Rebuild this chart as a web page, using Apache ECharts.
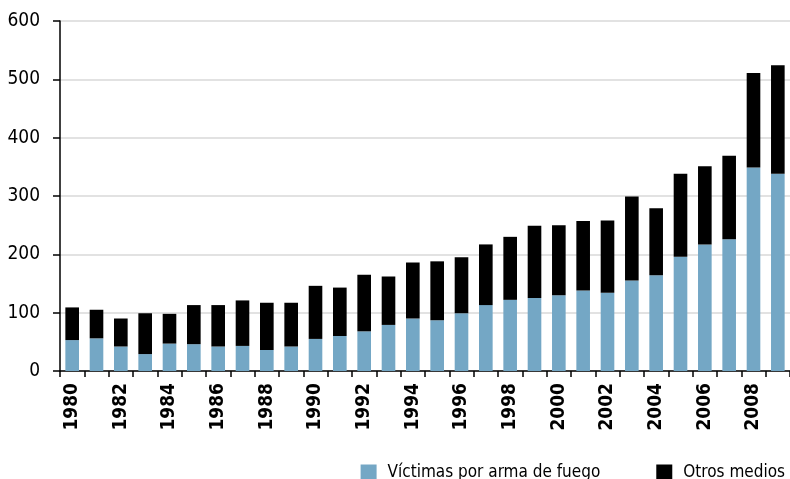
<!DOCTYPE html>
<html>
<head>
<meta charset="utf-8">
<script src="https://cdn.jsdelivr.net/npm/echarts@6/dist/echarts.min.js"></script>
<style>
  html, body { margin: 0; padding: 0; background: #fff; }
  #chart { width: 790px; height: 479px; }
</style>
</head>
<body>
<div id="chart"></div>
<script>
// years 1980..2009
var years = ['1980', '1981', '1982', '1983', '1984', '1985', '1986', '1987', '1988', '1989',
    '1990', '1991', '1992', '1993', '1994', '1995', '1996', '1997', '1998', '1999',
    '2000', '2001', '2002', '2003', '2004', '2005', '2006', '2007', '2008', '2009'];

// victims by firearm (blue, bottom)
var armaFuego = [53, 56, 42, 29, 47, 46, 42, 43, 36, 42,
    55, 60, 68, 79, 90, 87, 99, 113, 122, 125,
    130, 138, 134, 155, 164, 196, 217, 226, 349, 338];

// other means (black, top)
var otrosMedios = [56, 49, 48, 70, 51, 67, 71, 78, 81, 75,
    91, 83, 97, 83, 96, 101, 96, 104, 108, 124,
    120, 119, 124, 144, 115, 142, 134, 143, 162, 186];

var FONT = '"DejaVu Sans Condensed", "DejaVu Sans", sans-serif';

var chart = echarts.init(document.getElementById('chart'));

var option = {
    animation: false,
    textStyle: { fontFamily: FONT },
    grid: { left: 60, right: 0, top: 21, bottom: 108 },
    legend: {
        right: 0,
        top: 459,
        itemWidth: 16,
        itemHeight: 16,
        itemGap: 56,
        icon: 'rect',
        textStyle: { fontFamily: FONT, fontSize: 17, color: '#000', padding: [0, 0, 0, 6] },
        data: ['Víctimas por arma de fuego', 'Otros medios']
    },
    xAxis: {
        type: 'category',
        data: years,
        axisLine: { lineStyle: { color: '#000', width: 1.5 } },
        axisTick: { show: true, length: 6, interval: 0, lineStyle: { color: '#000', width: 1.5 } },
        axisLabel: {
            interval: 1,
            rotate: 90,
            margin: 12,
            color: '#000',
            fontFamily: FONT,
            fontWeight: 'bold',
            fontSize: 19
        }
    },
    yAxis: {
        type: 'value',
        min: 0,
        max: 600,
        interval: 100,
        axisLine: { show: true, lineStyle: { color: '#000', width: 1.5 } },
        axisTick: { show: true, length: 7, lineStyle: { color: '#000', width: 1.5 } },
        splitLine: { lineStyle: { color: '#d9d9d9', width: 1.5 } },
        axisLabel: {
            margin: 20,
            color: '#000',
            fontFamily: FONT,
            fontSize: 19
        }
    },
    series: [
        {
            name: 'Víctimas por arma de fuego',
            type: 'bar',
            stack: 'total',
            barCategoryGap: '44%',
            itemStyle: { color: '#74a7c5' },
            data: armaFuego
        },
        {
            name: 'Otros medios',
            type: 'bar',
            stack: 'total',
            itemStyle: { color: '#000000' },
            data: otrosMedios
        }
    ]
};

chart.setOption(option);
</script>
</body>
</html>
